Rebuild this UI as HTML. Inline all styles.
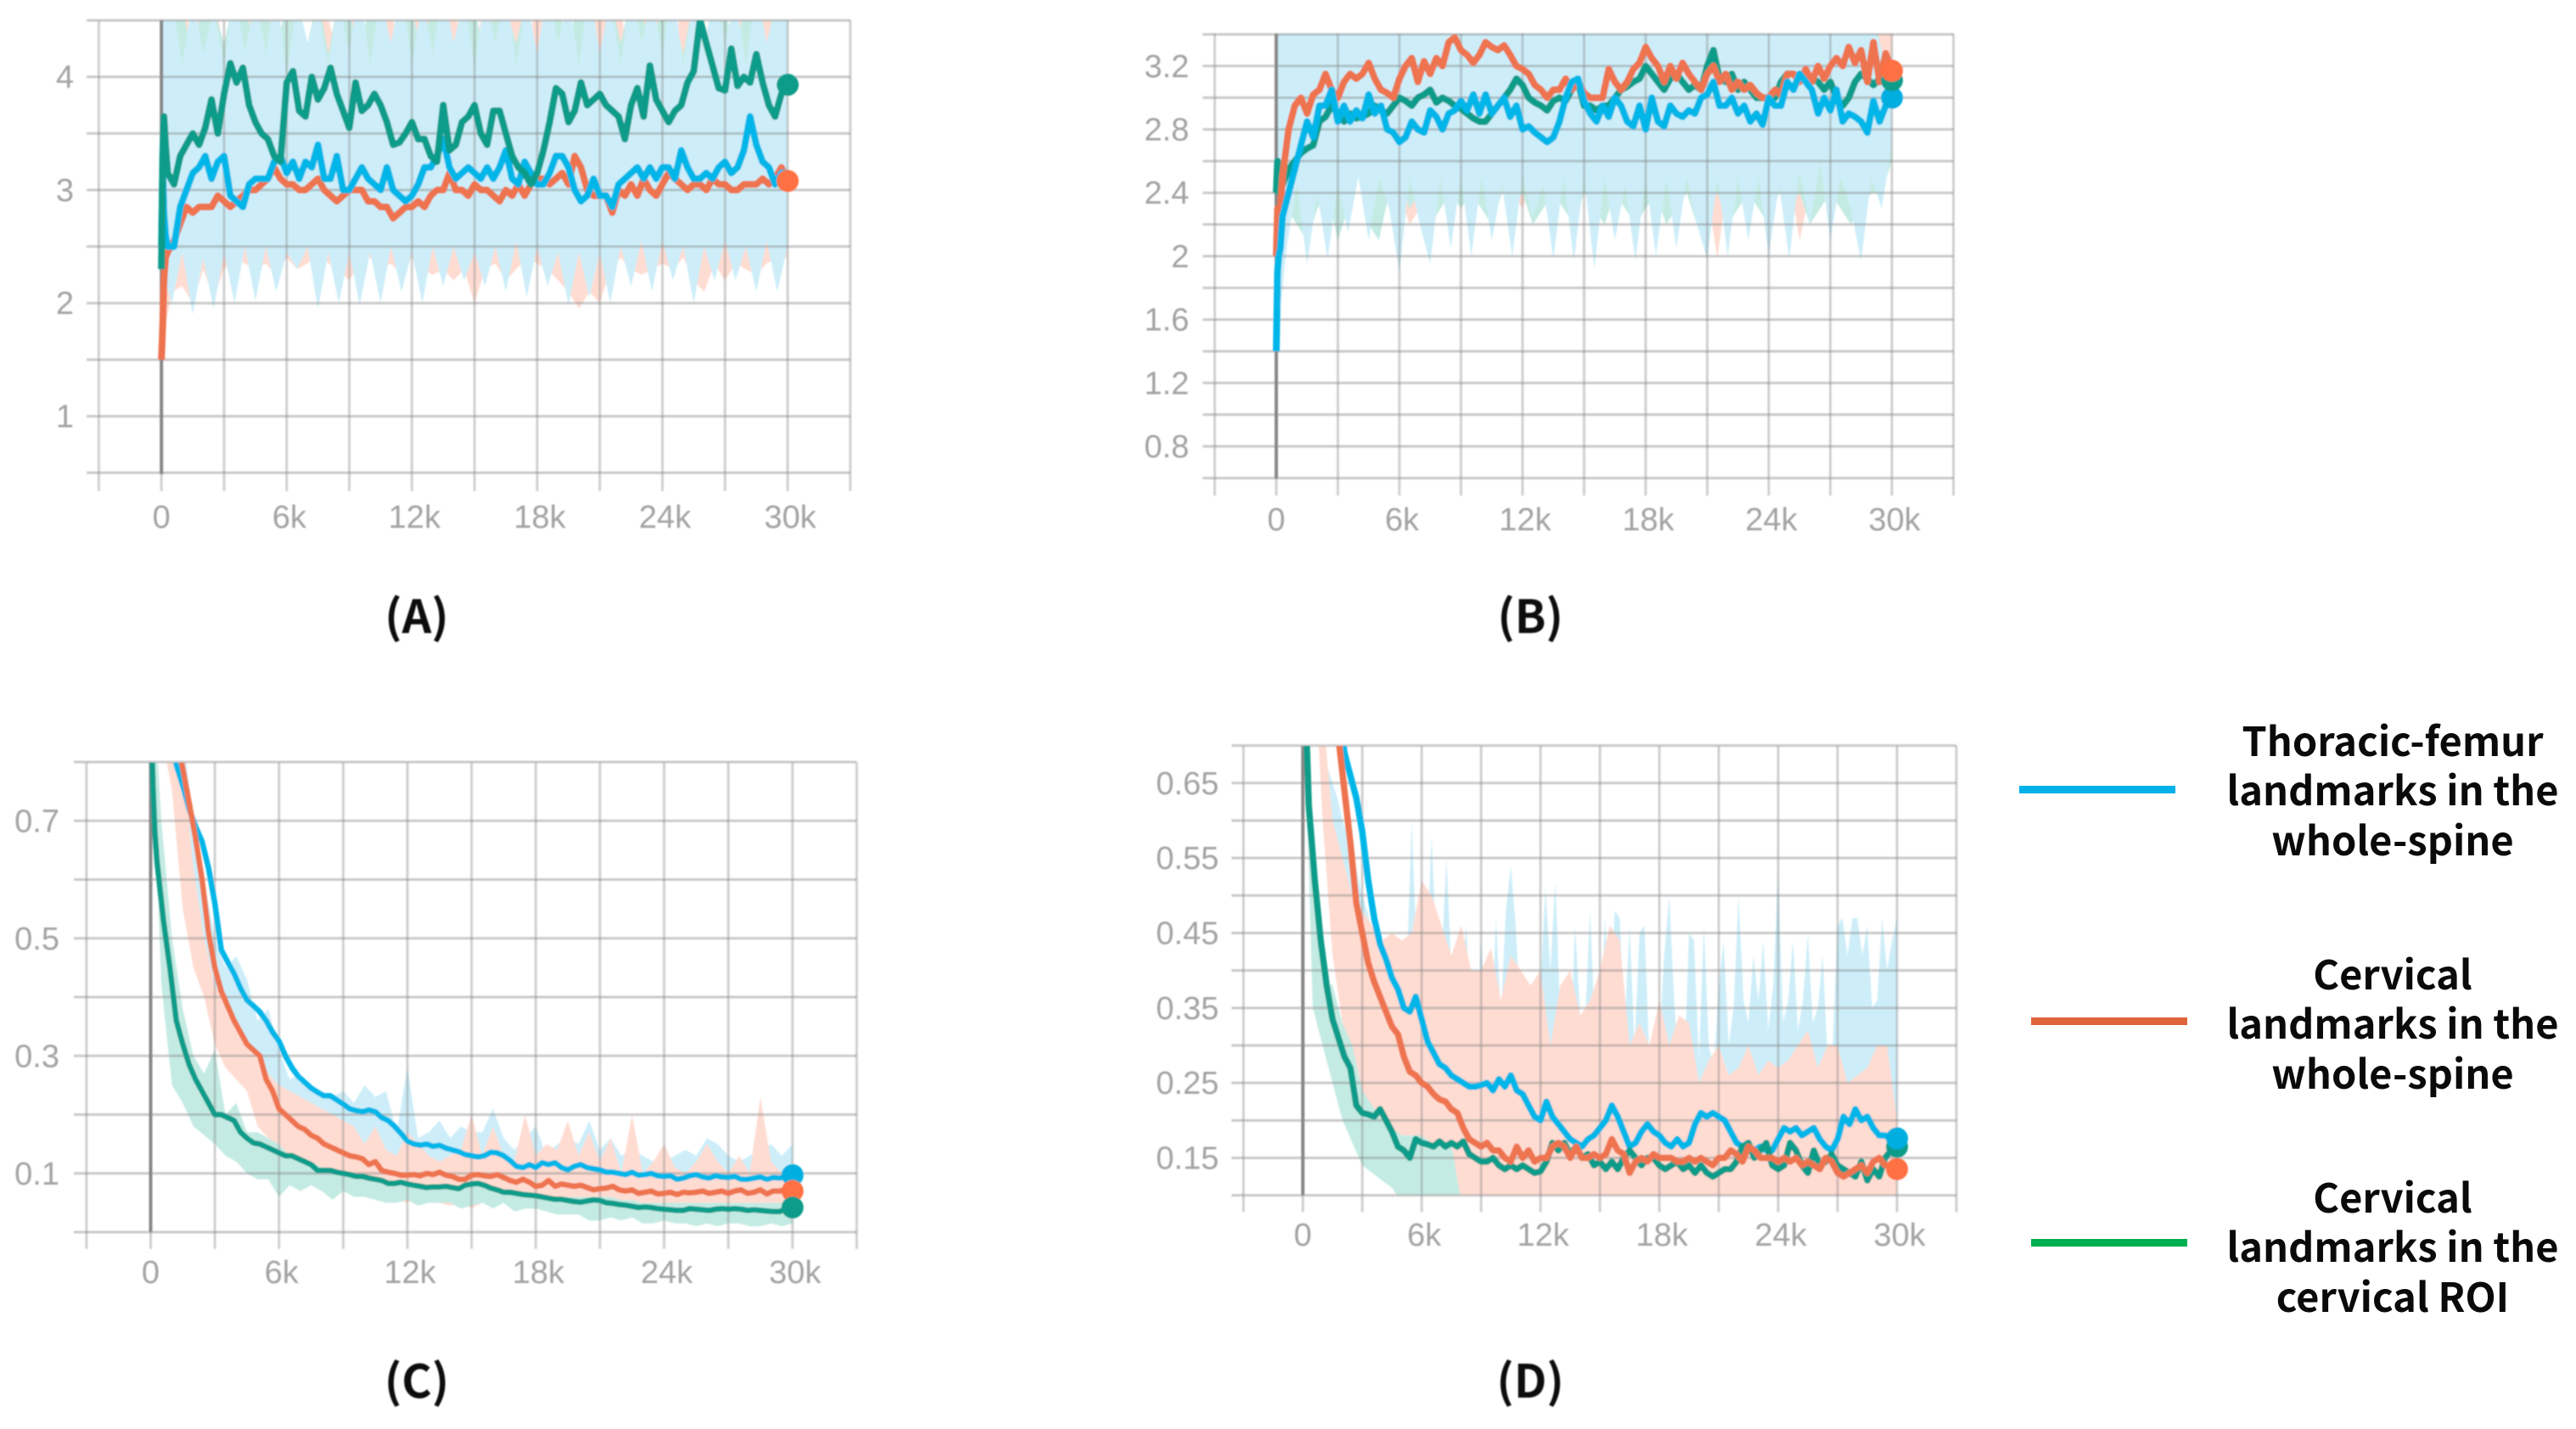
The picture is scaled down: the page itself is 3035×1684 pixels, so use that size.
<!DOCTYPE html>
<html lang="en">
<head>
<meta charset="utf-8">
<title>Training curves for landmark detection models</title>
<style>
html,body{margin:0;padding:0;background:#fff;}
svg{display:block;}
.tick{font-family:"Liberation Sans",sans-serif;font-size:38px;fill:#a3a3a3;}
.panel-title{font-family:"Noto Sans CJK KR","Liberation Sans",sans-serif;font-weight:700;font-size:54px;fill:#111;text-anchor:middle;}
.legend-text{font-family:"Noto Sans CJK KR","Liberation Sans",sans-serif;font-weight:700;font-size:47px;fill:#0a0a0a;text-anchor:middle;}
</style>
</head>
<body>
<svg id="figure" xmlns="http://www.w3.org/2000/svg" width="3035" height="1684" viewBox="0 0 3035 1684">
<defs>
<filter id="soft" x="-2%" y="-2%" width="104%" height="104%"><feGaussianBlur stdDeviation="0.8"/></filter>
</defs>
<rect width="3035" height="1684" fill="#ffffff"/>
<g id="charts" filter="url(#soft)"></g>
<g filter="url(#soft)">
<text class="panel-title" x="491" y="746">(A)</text>
<text class="panel-title" x="1803" y="746">(B)</text>
<text class="panel-title" x="491" y="1647">(C)</text>
<text class="panel-title" x="1803" y="1647">(D)</text>
</g>
<g>
<g>
<rect x="2379" y="926" width="184" height="9" fill="#00b0e8"/>
<text class="legend-text" x="2819" y="891">Thoracic-femur</text>
<text class="legend-text" x="2819" y="949">landmarks in the</text>
<text class="legend-text" x="2819" y="1008">whole-spine</text>
</g>
<g>
<rect x="2393" y="1199" width="184" height="9" fill="#e0653a"/>
<text class="legend-text" x="2819" y="1166">Cervical</text>
<text class="legend-text" x="2819" y="1224">landmarks in the</text>
<text class="legend-text" x="2819" y="1283">whole-spine</text>
</g>
<g>
<rect x="2393" y="1460" width="184" height="9" fill="#00b050"/>
<text class="legend-text" x="2819" y="1429">Cervical</text>
<text class="legend-text" x="2819" y="1487">landmarks in the</text>
<text class="legend-text" x="2819" y="1546">cervical ROI</text>
</g>
</g>
</svg>
<script>
/* Shared step axes */
const steps = [0,60,120,200,
300,600,900,1200,1500,1800,2100,2400,2700,3000,
3300,3600,3900,4200,4500,4800,5100,5400,5700,6000,
6300,6600,6900,7200,7500,7800,8100,8400,8700,9000,
9300,9600,9900,10200,10500,10800,11100,11400,11700,12000,
12300,12600,12900,13200,13500,13800,14100,14400,14700,15000,
15300,15600,15900,16200,16500,16800,17100,17400,17700,18000,
18300,18600,18900,19200,19500,19800,20100,20400,20700,21000,
21300,21600,21900,22200,22500,22800,23100,23400,23700,24000,
24300,24600,24900,25200,25500,25800,26100,26400,26700,27000,
27300,27600,27900,28200,28500,28800,29100,29400,29700,30000];
const rawSteps = [0,500,1000,1500,2000,2500,3000,3500,4000,4500,
5000,5500,6000,6500,7000,7500,8000,8500,9000,9500,
10000,10500,11000,11500,12000,12500,13000,13500,14000,14500,
15000,15500,16000,16500,17000,17500,18000,18500,19000,19500,
20000,20500,21000,21500,22000,22500,23000,23500,24000,24500,
25000,25500,26000,26500,27000,27500,28000,28500,29000,29500,30000];
const fineSteps = [0,250,500,750,1000,1250,1500,1750,2000,2250,2500,2750,3000,3250,3500,3750,4000,4250,4500,4750,
5000,5250,5500,5750,6000,6250,6500,6750,7000,7250,7500,7750,8000,8250,8500,8750,9000,9250,9500,9750,
10000,10250,10500,10750,11000,11250,11500,11750,12000,12250,12500,12750,13000,13250,13500,13750,14000,14250,14500,14750,
15000,15250,15500,15750,16000,16250,16500,16750,17000,17250,17500,17750,18000,18250,18500,18750,19000,19250,19500,19750,
20000,20250,20500,20750,21000,21250,21500,21750,22000,22250,22500,22750,23000,23250,23500,23750,24000,24250,24500,24750,
25000,25250,25500,25750,26000,26250,26500,26750,27000,27250,27500,27750,28000,28250,28500,28750,29000,29250,29500,29750,30000];
const xGridSteps = [-3000,0,3000,6000,9000,12000,15000,18000,21000,24000,27000,30000,33000];
const xTickSteps = [0,6000,12000,18000,24000,30000];
const xTickLabels = ['0','6k','12k','18k','24k','30k'];

/* Panel A */
const aGridValues = [0.5,1,1.5,2,2.5,3,3.5,4,4.5];
const aTickValues = [1,2,3,4];
const aTickLabels = ['1','2','3','4'];
const aTeal = [2.3,3.3,3.65,3.4,
3.15,3.05,3.3,3.4,3.5,3.4,3.55,3.8,3.5,3.85,
4.12,3.95,4.08,3.75,3.6,3.5,3.45,3.3,3.25,3.95,
4.05,3.7,3.65,4.0,3.8,3.9,4.08,3.85,3.7,3.55,
3.95,3.7,3.75,3.85,3.75,3.6,3.4,3.42,3.5,3.6,
3.45,3.45,3.3,3.25,3.75,3.35,3.4,3.6,3.65,3.75,
3.5,3.4,3.7,3.7,3.5,3.3,3.2,3.15,3.05,3.15,
3.35,3.6,3.9,3.85,3.6,3.7,3.95,3.75,3.8,3.85,
3.75,3.7,3.65,3.45,3.75,3.9,3.65,4.1,3.8,3.7,
3.6,3.7,3.75,3.95,4.05,4.5,4.3,4.1,3.9,3.88,
4.25,3.92,4.0,3.95,4.2,3.95,3.75,3.65,3.85,3.93];
const aCyan = [2.5,3.2,2.8,2.6,
2.5,2.5,2.85,3.0,3.15,3.2,3.3,3.1,3.25,3.3,
2.95,2.9,2.85,3.05,3.1,3.1,3.1,3.25,3.3,3.15,
3.25,3.1,3.25,3.2,3.4,3.1,3.1,3.3,3.0,3.0,
3.1,3.2,3.1,3.05,3.0,3.2,3.0,2.95,2.9,2.95,
3.05,3.2,3.2,3.3,3.45,3.2,3.1,3.15,3.2,3.15,
3.1,3.2,3.1,3.2,3.35,3.1,3.05,3.25,3.15,3.05,
3.05,3.15,3.3,3.3,3.2,3.0,2.9,2.95,3.1,2.95,
2.95,2.85,3.05,3.1,3.15,3.2,3.1,3.2,3.1,3.2,
3.2,3.1,3.35,3.2,3.1,3.1,3.15,3.1,3.2,3.25,
3.15,3.2,3.35,3.65,3.4,3.25,3.2,3.05,3.15,3.15];
const aOrange = [1.5,1.8,2.2,2.4,
2.45,2.55,2.7,2.85,2.8,2.85,2.85,2.85,2.95,2.9,
2.85,2.9,2.95,3.0,3.0,3.05,3.1,3.2,3.1,3.05,
3.05,3.0,3.0,3.05,3.1,3.0,2.95,2.9,2.95,3.0,
3.0,3.0,2.9,2.9,2.85,2.85,2.75,2.8,2.85,2.85,
2.9,2.85,2.95,3.0,3.0,3.15,3.0,3.0,2.95,3.05,
3.0,3.0,2.95,2.9,3.0,2.95,3.05,2.95,3.05,3.1,
3.1,3.05,3.1,3.15,3.05,3.3,3.2,3.0,2.95,2.95,
2.95,2.8,3.0,2.95,3.05,2.95,3.1,3.0,2.95,3.05,
3.15,3.1,3.05,3.0,3.05,3.05,3.0,3.1,3.05,3.05,
3.0,3.0,3.05,3.05,3.05,3.1,3.05,3.1,3.2,3.08];
const aCyanLow = [2.3,2.0,2.45,1.9,2.4,1.95,2.45,2.0,2.5,2.02,
2.5,2.1,2.45,2.3,2.5,1.95,2.45,2.0,2.45,1.98,
2.45,2.0,2.5,2.1,2.45,2.0,2.5,2.15,2.5,2.2,
2.45,2.15,2.5,2.1,2.55,2.05,2.5,2.15,2.45,1.98,
2.45,2.05,2.45,2.0,2.5,2.15,2.55,2.1,2.55,2.2,
2.5,2.0,2.5,2.2,2.55,2.2,2.5,2.1,2.55,2.1,2.5];
const aCyanHigh = [5,4.7,4.1,4.7,4.2,4.6,4.1,4.8,4.2,4.7,
4.2,4.8,4.0,4.7,4.3,4.6,4.1,4.7,4.2,4.8,
4.1,4.7,4.3,4.8,4.1,4.7,4.2,4.8,4.3,4.7,
4.1,4.7,4.3,4.8,4.1,4.7,4.2,4.8,4.3,4.7,
4.1,4.8,4.2,4.7,4.1,4.8,4.3,4.7,4.2,4.8,
4.1,4.7,4.2,4.8,4.3,4.7,4.1,4.8,4.3,4.7,4.6];
const aOrangeLow = [1.6,2.1,2.15,2.0,2.3,2.05,2.3,2.4,2.35,2.3,
2.35,2.25,2.4,2.3,2.35,2.45,2.35,2.3,2.2,2.35,
2.4,2.3,2.35,2.25,2.4,2.3,2.25,2.3,2.2,2.3,
2.0,2.3,2.35,2.2,2.3,2.4,2.35,2.3,2.2,2.1,
1.95,2.1,2.0,2.3,2.4,2.3,2.25,2.3,2.35,2.3,
2.4,2.2,2.1,2.35,2.2,2.35,2.3,2.25,2.35,2.4,2.4];
const aOrangeHigh = [1.8,4.5,4.7,4.3,4.7,4.8,4.2,4.7,4.4,4.7,
4.8,4.2,4.7,4.6,4.0,4.7,4.5,4.2,4.8,4.5,
4.2,4.7,4.6,4.1,4.7,4.7,4.4,4.7,4.6,4.3,
4.2,4.7,4.5,4.3,4.7,4.2,4.7,4.6,4.4,4.1,
4.7,4.3,4.7,4.5,4.6,4.0,4.7,4.6,4.4,4.2,
4.7,4.5,4.0,4.7,4.3,4.7,4.6,4.2,4.7,4.5,4.6];
const aTealLow = [2.4,3.0,3.0,3.1,3.0,3.1,3.0,3.1,3.0,3.1,
3.0,3.1,3.0,3.1,3.0,3.1,3.0,3.1,3.0,3.1,
3.0,3.1,3.0,3.1,3.0,3.1,3.0,3.1,3.0,3.1,
3.0,3.1,3.0,3.1,3.0,3.1,3.0,3.1,3.0,3.1,
3.0,3.1,3.0,3.1,3.0,3.1,3.0,3.1,3.0,3.1,
3.0,3.1,3.0,3.1,3.0,3.1,3.0,3.1,3.0,3.1,3.1];
const aTealHigh = [5,4.7,4.6,4.2,4.7,4.6,4.3,4.7,4.6,4.3,
4.7,4.2,4.7,4.6,4.3,4.7,4.2,4.7,4.6,4.2,
4.7,4.6,4.3,4.7,4.6,4.2,4.7,4.6,4.3,4.7,
4.6,4.2,4.7,4.6,4.3,4.7,4.2,4.7,4.6,4.3,
4.7,4.6,4.2,4.7,4.3,4.7,4.6,4.2,4.7,4.6,
4.2,4.7,4.3,4.7,4.6,4.2,4.7,4.6,4.3,4.7,4.6];

/* Panel B */
const bGridValues = [0.6,0.8,1,1.2,1.4,1.6,1.8,2,2.2,2.4,2.6,2.8,3,3.2,3.4];
const bTickValues = [0.8,1.2,1.6,2,2.4,2.8,3.2];
const bTickLabels = ['0.8','1.2','1.6','2','2.4','2.8','3.2'];
const bOrange = [2.0,2.3,2.0,2.3,
2.5,2.8,2.95,3.0,2.9,3.02,3.05,3.15,3.05,3.0,
3.1,3.15,3.12,3.15,3.22,3.12,3.05,3.03,3.0,3.12,
3.2,3.25,3.1,3.23,3.15,3.25,3.2,3.35,3.38,3.3,
3.27,3.22,3.27,3.35,3.32,3.3,3.33,3.27,3.2,3.18,
3.15,3.08,3.05,3.0,3.05,3.05,3.12,3.05,3.1,3.03,
3.0,3.0,3.0,3.18,3.1,3.05,3.1,3.18,3.22,3.32,
3.25,3.2,3.1,3.2,3.12,3.22,3.15,3.1,3.05,3.15,
3.2,3.1,3.15,3.05,3.1,3.05,3.08,3.03,3.0,3.0,
3.05,3.02,3.15,3.15,3.1,3.18,3.1,3.2,3.12,3.2,
3.25,3.2,3.32,3.22,3.3,3.1,3.35,3.1,3.28,3.17];
const bTeal = [2.4,2.6,2.4,2.45,
2.45,2.55,2.6,2.65,2.68,2.7,2.85,2.88,2.95,2.9,
2.85,2.9,2.87,2.88,2.9,2.95,2.92,2.9,2.95,3.0,
2.98,2.95,3.0,3.02,3.05,2.97,3.0,2.98,2.95,2.93,
2.9,2.87,2.85,2.85,2.9,2.95,3.0,3.05,3.12,3.08,
3.0,2.97,2.95,2.92,2.98,3.0,2.98,3.05,3.1,2.95,
2.95,2.92,2.95,2.95,3.0,3.05,3.07,3.1,3.12,3.2,
3.15,3.1,3.05,3.12,3.15,3.1,3.05,3.08,3.05,3.2,
3.3,3.12,3.1,3.15,3.05,3.1,3.05,3.0,3.0,3.0,
3.0,3.1,3.15,3.15,3.12,3.15,3.12,3.1,3.05,3.1,
3.0,2.95,3.0,3.1,3.15,3.12,3.08,3.12,3.1,3.11];
const bCyan = [1.4,1.9,2.0,2.05,
2.25,2.4,2.55,2.7,2.85,2.75,2.95,2.95,3.05,2.85,
2.95,2.85,2.92,2.87,3.02,2.9,2.95,2.8,2.78,2.72,
2.75,2.85,2.8,2.78,2.92,2.88,2.8,2.9,2.92,2.98,
2.92,3.02,2.9,3.02,2.9,2.95,3.0,2.88,2.95,2.8,
2.82,2.78,2.75,2.72,2.75,2.85,3.0,3.1,3.12,2.98,
2.9,2.85,2.95,2.88,3.0,2.95,2.85,2.82,2.95,2.8,
3.0,2.85,2.82,2.95,2.9,2.88,2.92,2.9,3.0,3.02,
3.1,2.95,2.95,3.0,2.9,2.95,2.85,2.9,2.83,3.0,
2.95,2.95,3.1,3.05,3.15,3.1,3.05,2.9,3.0,2.92,
3.05,2.85,2.9,2.88,2.85,2.78,2.98,2.85,2.95,3.0];
const bCyanLow = [1.4,2.05,2.45,1.95,2.4,1.98,2.45,2.15,2.5,2.1,
2.5,2.3,1.9,2.5,2.2,1.95,2.5,2.05,2.5,2.0,
2.5,2.1,2.45,2.0,2.5,2.25,2.45,1.98,2.5,1.97,
2.5,1.92,2.5,2.1,2.45,1.97,2.5,2.0,2.5,2.05,
2.5,2.2,1.98,2.5,2.0,2.5,2.1,2.5,2.0,2.45,
1.98,2.55,2.2,2.6,2.1,2.5,2.3,1.97,2.5,2.3,2.7];
const bCyanHigh = [3.6,3.6,3.6,3.6,3.5,3.6,3.45,3.6,3.6,3.5,
3.6,3.55,3.6,3.45,3.6,3.6,3.5,3.6,3.45,3.6,
3.6,3.5,3.6,3.6,3.45,3.6,3.5,3.6,3.6,3.45,
3.6,3.6,3.5,3.6,3.45,3.6,3.6,3.5,3.6,3.6,
3.45,3.6,3.6,3.5,3.6,3.6,3.45,3.6,3.5,3.6,
3.6,3.5,3.45,3.6,3.6,3.5,3.4,3.6,3.5,3.3,3.2];
const bOrangeLow = [2.0,2.6,2.4,2.3,2.4,2.2,2.5,2.3,2.6,2.5,
2.4,2.5,2.4,2.2,2.3,2.05,2.4,2.5,2.5,2.4,
2.5,2.4,2.5,2.4,2.3,2.5,2.4,2.5,2.4,2.5,
2.4,2.5,2.4,2.5,2.5,2.4,2.3,2.5,2.4,2.5,
2.4,2.5,2.4,1.98,2.5,2.4,2.5,2.4,2.5,2.4,
2.5,2.1,2.4,2.5,2.4,2.5,2.4,2.5,2.5,2.6,2.8];
const bOrangeHigh = [2.3,3.6,3.5,3.6,3.6,3.5,3.6,3.6,3.5,3.6,
3.6,3.6,3.5,3.6,3.6,3.5,3.6,3.6,3.6,3.5,
3.6,3.6,3.5,3.6,3.6,3.6,3.5,3.6,3.6,3.5,
3.6,3.6,3.6,3.5,3.6,3.6,3.5,3.6,3.6,3.6,
3.5,3.6,3.6,3.5,3.6,3.6,3.6,3.5,3.6,3.6,
3.5,3.6,3.6,3.6,3.5,3.6,3.6,3.6,3.5,3.6,3.4];
const bTealLow = [2.4,2.3,2.2,2.1,2.3,2.4,2.1,2.3,2.5,2.2,
2.1,2.4,2.5,2.3,2.4,2.2,2.3,2.4,2.3,2.4,
2.3,2.2,2.4,2.3,2.4,2.2,2.3,2.4,2.3,2.2,
2.4,2.3,2.2,2.4,2.3,2.2,2.3,2.4,2.2,2.3,
2.4,2.2,2.3,2.4,2.2,2.3,2.4,2.3,2.2,2.4,
2.3,2.4,2.2,2.3,2.4,2.3,2.2,2.3,2.4,2.4,2.6];
const bTealHigh = [2.6,3.6,3.6,3.5,3.6,3.6,3.6,3.5,3.6,3.6,
3.6,3.5,3.6,3.6,3.6,3.6,3.5,3.6,3.6,3.6,
3.5,3.6,3.6,3.6,3.5,3.6,3.6,3.6,3.5,3.6,
3.6,3.5,3.6,3.6,3.6,3.5,3.6,3.6,3.6,3.5,
3.6,3.6,3.5,3.6,3.6,3.5,3.6,3.6,3.6,3.5,
3.6,3.6,3.5,3.6,3.6,3.6,3.5,3.6,3.6,3.3,3.2];

/* Panel C */
const cGridValues = [0,0.1,0.2,0.3,0.4,0.5,0.6,0.7,0.8];
const cTickValues = [0.1,0.3,0.5,0.7];
const cTickLabels = ['0.1','0.3','0.5','0.7'];
const cTeal = [1.0,0.82,0.75,0.68,
0.63,0.53,0.45,0.36,0.32,0.285,0.26,0.24,0.22,0.2,
0.2,0.195,0.19,0.17,0.16,0.152,0.15,0.145,0.14,0.135,
0.13,0.13,0.125,0.12,0.115,0.105,0.105,0.105,0.102,0.1,
0.098,0.095,0.095,0.092,0.09,0.088,0.083,0.083,0.085,0.082,
0.08,0.078,0.076,0.077,0.077,0.078,0.076,0.074,0.08,0.082,
0.083,0.08,0.075,0.072,0.068,0.068,0.066,0.064,0.063,0.062,
0.06,0.058,0.056,0.056,0.054,0.052,0.051,0.053,0.055,0.054,
0.05,0.049,0.047,0.046,0.044,0.042,0.043,0.042,0.04,0.039,
0.038,0.037,0.037,0.04,0.039,0.038,0.037,0.039,0.04,0.039,
0.04,0.039,0.037,0.038,0.037,0.036,0.035,0.035,0.04,0.042];
const cOrange = [1.3,1.2,1.1,1.05,
1.02,0.97,0.9,0.84,0.79,0.73,0.67,0.6,0.51,0.45,
0.41,0.385,0.36,0.34,0.32,0.31,0.3,0.26,0.24,0.21,
0.2,0.19,0.18,0.175,0.165,0.16,0.15,0.145,0.14,0.135,
0.13,0.128,0.125,0.115,0.12,0.105,0.102,0.1,0.097,0.097,
0.098,0.096,0.1,0.098,0.102,0.097,0.095,0.09,0.09,0.097,
0.098,0.096,0.095,0.098,0.093,0.088,0.085,0.09,0.085,0.078,
0.08,0.088,0.078,0.082,0.08,0.078,0.08,0.076,0.072,0.074,
0.075,0.078,0.072,0.07,0.072,0.066,0.068,0.07,0.065,0.066,
0.068,0.064,0.068,0.067,0.068,0.07,0.066,0.068,0.07,0.066,
0.07,0.072,0.066,0.068,0.072,0.065,0.07,0.07,0.072,0.07];
const cCyan = [1.4,1.3,1.2,1.1,
1.05,0.95,0.87,0.795,0.76,0.72,0.69,0.665,0.62,0.56,
0.48,0.46,0.44,0.415,0.395,0.385,0.375,0.36,0.34,0.325,
0.3,0.28,0.265,0.255,0.245,0.238,0.232,0.232,0.225,0.218,
0.21,0.207,0.205,0.208,0.205,0.195,0.19,0.18,0.168,0.155,
0.15,0.148,0.15,0.146,0.148,0.143,0.14,0.137,0.132,0.13,
0.128,0.13,0.136,0.135,0.13,0.122,0.112,0.11,0.115,0.11,
0.118,0.115,0.118,0.11,0.106,0.112,0.115,0.11,0.108,0.106,
0.102,0.102,0.1,0.098,0.102,0.097,0.098,0.1,0.096,0.095,
0.096,0.09,0.092,0.096,0.098,0.094,0.092,0.096,0.094,0.093,
0.095,0.09,0.09,0.092,0.094,0.09,0.093,0.092,0.095,0.097];
const cTealLow = [0.9,0.42,0.25,0.22,0.18,0.165,0.15,0.13,0.12,0.1,
0.09,0.09,0.06,0.08,0.07,0.08,0.07,0.055,0.07,0.06,
0.06,0.055,0.05,0.05,0.055,0.045,0.05,0.05,0.05,0.04,
0.045,0.05,0.04,0.05,0.035,0.04,0.04,0.035,0.03,0.03,
0.03,0.02,0.02,0.025,0.02,0.025,0.015,0.015,0.02,0.015,
0.015,0.01,0.015,0.01,0.015,0.015,0.01,0.01,0.015,0.01,0.015];
const cTealHigh = [1.0,0.7,0.5,0.38,0.3,0.27,0.31,0.2,0.22,0.17,
0.17,0.16,0.15,0.13,0.12,0.12,0.11,0.11,0.1,0.1,
0.095,0.09,0.085,0.08,0.08,0.08,0.08,0.08,0.08,0.08,
0.08,0.08,0.075,0.07,0.07,0.065,0.065,0.06,0.06,0.06,
0.06,0.06,0.06,0.06,0.055,0.055,0.05,0.05,0.05,0.05,
0.05,0.05,0.05,0.05,0.05,0.05,0.05,0.05,0.05,0.05,0.05];
const cOrangeLow = [0.9,0.85,0.75,0.55,0.45,0.4,0.32,0.28,0.26,0.24,
0.18,0.16,0.14,0.12,0.1,0.09,0.08,0.075,0.07,0.065,
0.07,0.06,0.06,0.055,0.05,0.06,0.05,0.05,0.045,0.05,
0.04,0.05,0.045,0.05,0.04,0.04,0.045,0.035,0.04,0.035,
0.04,0.03,0.035,0.03,0.035,0.03,0.03,0.025,0.03,0.025,
0.03,0.025,0.03,0.02,0.025,0.025,0.02,0.025,0.02,0.025,0.02];
const cOrangeHigh = [1.3,1.2,1,0.8,0.62,0.5,0.42,0.39,0.36,0.33,
0.3,0.27,0.25,0.24,0.23,0.22,0.21,0.2,0.19,0.18,
0.15,0.18,0.14,0.13,0.17,0.15,0.13,0.12,0.13,0.14,
0.2,0.13,0.18,0.13,0.12,0.2,0.13,0.15,0.14,0.19,
0.13,0.17,0.12,0.16,0.1,0.2,0.1,0.12,0.15,0.11,
0.1,0.12,0.15,0.12,0.1,0.13,0.1,0.23,0.12,0.1,0.1];
const cCyanLow = [1.4,1.2,0.9,0.7,0.55,0.44,0.36,0.32,0.28,0.26,
0.22,0.2,0.18,0.17,0.16,0.16,0.15,0.14,0.13,0.12,
0.12,0.11,0.11,0.11,0.105,0.11,0.1,0.1,0.1,0.095,
0.09,0.09,0.09,0.085,0.085,0.085,0.085,0.08,0.08,0.08,
0.08,0.075,0.075,0.08,0.075,0.07,0.07,0.07,0.07,0.07,
0.07,0.07,0.07,0.07,0.065,0.07,0.07,0.065,0.07,0.07,0.07];
const cCyanHigh = [1.4,1.3,1.1,0.85,0.7,0.6,0.5,0.45,0.47,0.43,
0.36,0.38,0.31,0.26,0.27,0.24,0.24,0.23,0.24,0.22,
0.25,0.23,0.24,0.17,0.28,0.16,0.17,0.19,0.16,0.18,
0.17,0.17,0.21,0.16,0.14,0.16,0.18,0.13,0.15,0.16,
0.15,0.19,0.14,0.16,0.13,0.14,0.13,0.12,0.12,0.13,
0.14,0.13,0.16,0.15,0.13,0.12,0.13,0.14,0.15,0.13,0.15];

/* Panel D */
const dGridValues = [0.1,0.15,0.2,0.25,0.3,0.35,0.4,0.45,0.5,0.55,0.6,0.65,0.7];
const dTickValues = [0.15,0.25,0.35,0.45,0.55,0.65];
const dTickLabels = ['0.15','0.25','0.35','0.45','0.55','0.65'];
const dTeal = [0.95,0.85,0.75,0.7,
0.62,0.52,0.44,0.38,0.335,0.31,0.285,0.27,0.22,0.21,
0.208,0.205,0.215,0.2,0.185,0.165,0.16,0.15,0.175,0.17,
0.168,0.165,0.172,0.165,0.17,0.165,0.172,0.155,0.15,0.145,
0.145,0.15,0.14,0.135,0.14,0.135,0.14,0.135,0.13,0.132,
0.145,0.17,0.16,0.17,0.155,0.165,0.15,0.155,0.14,0.145,
0.135,0.145,0.135,0.15,0.16,0.15,0.14,0.15,0.15,0.14,
0.135,0.14,0.145,0.135,0.14,0.13,0.14,0.13,0.125,0.13,
0.135,0.135,0.145,0.165,0.17,0.15,0.16,0.17,0.14,0.135,
0.14,0.17,0.16,0.14,0.13,0.16,0.14,0.145,0.155,0.14,
0.135,0.13,0.125,0.145,0.12,0.135,0.125,0.15,0.16,0.165];
const dOrange = [1.4,1.3,1.25,1.2,
1.15,1.05,0.95,0.85,0.77,0.71,0.64,0.57,0.49,0.45,
0.41,0.385,0.365,0.345,0.325,0.315,0.285,0.265,0.26,0.25,
0.245,0.235,0.228,0.225,0.215,0.21,0.19,0.175,0.17,0.165,
0.17,0.16,0.16,0.15,0.145,0.165,0.15,0.16,0.145,0.15,
0.15,0.165,0.17,0.165,0.15,0.165,0.15,0.15,0.155,0.15,
0.155,0.175,0.16,0.155,0.13,0.145,0.15,0.145,0.155,0.15,
0.15,0.15,0.145,0.145,0.15,0.145,0.15,0.145,0.14,0.15,
0.15,0.16,0.155,0.145,0.165,0.16,0.15,0.15,0.15,0.145,
0.15,0.145,0.15,0.14,0.145,0.14,0.135,0.15,0.145,0.13,
0.125,0.13,0.135,0.14,0.13,0.145,0.15,0.14,0.14,0.135];
const dCyan = [1.5,1.4,1.35,1.3,
1.25,1.15,1.05,0.95,0.85,0.75,0.69,0.66,0.63,0.585,
0.52,0.47,0.435,0.415,0.39,0.375,0.35,0.345,0.365,0.335,
0.305,0.29,0.275,0.27,0.26,0.255,0.25,0.245,0.245,0.247,
0.25,0.24,0.255,0.245,0.26,0.24,0.235,0.22,0.205,0.2,
0.225,0.205,0.195,0.185,0.175,0.17,0.165,0.175,0.18,0.19,
0.2,0.22,0.205,0.185,0.165,0.17,0.185,0.195,0.185,0.18,
0.17,0.165,0.175,0.165,0.17,0.195,0.21,0.205,0.21,0.205,
0.2,0.185,0.17,0.165,0.165,0.16,0.165,0.16,0.16,0.175,
0.19,0.185,0.19,0.18,0.185,0.19,0.175,0.165,0.16,0.175,
0.205,0.195,0.215,0.2,0.205,0.19,0.18,0.18,0.175,0.176];
const dCyanLow = [1.2,0.85,0.66,0.5,0.43,0.36,0.32,0.27,0.26,0.25,
0.24,0.24,0.23,0.24,0.22,0.23,0.22,0.23,0.22,0.22,
0.21,0.22,0.21,0.2,0.19,0.2,0.19,0.18,0.19,0.18,
0.19,0.18,0.18,0.19,0.18,0.18,0.19,0.18,0.18,0.19,
0.18,0.18,0.19,0.18,0.18,0.18,0.19,0.18,0.18,0.19,
0.18,0.18,0.19,0.18,0.18,0.19,0.18,0.18,0.19,0.18,0.18];
const dCyanHigh = [1.5,1.2,1.1,0.95,0.7,0.67,0.65,0.63,0.6,0.58,0.55,0.53,0.5,0.48,0.45,0.44,0.44,0.42,0.45,0.41,
0.42,0.4,0.6,0.42,0.4,0.42,0.58,0.42,0.41,0.55,0.4,0.38,0.38,0.46,0.34,0.33,0.44,0.32,0.3,0.47,
0.34,0.48,0.54,0.46,0.33,0.3,0.28,0.3,0.38,0.51,0.4,0.52,0.34,0.3,0.3,0.46,0.34,0.33,0.48,0.32,
0.3,0.47,0.36,0.48,0.47,0.33,0.46,0.3,0.45,0.46,0.28,0.27,0.3,0.42,0.5,0.36,0.26,0.26,0.45,0.44,
0.28,0.46,0.3,0.27,0.38,0.44,0.3,0.35,0.5,0.36,0.33,0.42,0.36,0.44,0.32,0.38,0.53,0.33,0.36,0.44,
0.32,0.36,0.45,0.33,0.35,0.42,0.28,0.3,0.46,0.47,0.42,0.47,0.47,0.42,0.46,0.35,0.36,0.47,0.4,0.44,0.47];
const dOrangeLow = [1.2,0.85,0.6,0.42,0.33,0.26,0.2,0.16,0.15,0.14,
0.14,0.13,0.12,0.12,0.11,0.1,0.09,0.09,0.09,0.09,
0.09,0.09,0.09,0.09,0.09,0.09,0.09,0.09,0.09,0.09,
0.09,0.09,0.09,0.09,0.09,0.09,0.09,0.09,0.09,0.09,
0.09,0.09,0.09,0.09,0.09,0.09,0.09,0.09,0.09,0.09,
0.09,0.09,0.09,0.09,0.09,0.09,0.09,0.09,0.09,0.09,0.09];
const dOrangeHigh = [1.3,1.0,0.75,0.6,0.55,0.5,0.48,0.46,0.44,0.45,
0.44,0.45,0.52,0.5,0.46,0.42,0.46,0.4,0.4,0.43,
0.36,0.42,0.4,0.38,0.4,0.3,0.38,0.4,0.34,0.36,
0.4,0.46,0.44,0.3,0.33,0.3,0.36,0.3,0.34,0.33,
0.25,0.28,0.3,0.26,0.27,0.3,0.26,0.28,0.27,0.28,
0.3,0.32,0.27,0.3,0.3,0.25,0.26,0.27,0.3,0.3,0.2];
const dTealLow = [0.8,0.35,0.3,0.25,0.2,0.17,0.14,0.13,0.12,0.11,
0.09,0.09,0.09,0.09,0.09,0.09,0.09,0.09,0.09,0.09,
0.09,0.09,0.09,0.09,0.09,0.09,0.09,0.09,0.09,0.09,
0.09,0.09,0.09,0.09,0.09,0.09,0.09,0.09,0.09,0.09,
0.09,0.09,0.09,0.09,0.09,0.09,0.09,0.09,0.09,0.09,
0.09,0.09,0.09,0.09,0.09,0.09,0.09,0.09,0.09,0.09,0.09];
const dTealHigh = [0.9,0.5,0.39,0.38,0.33,0.3,0.24,0.22,0.2,0.19,
0.18,0.18,0.18,0.17,0.17,0.17,0.09,0.09,0.09,0.09,
0.09,0.09,0.09,0.09,0.09,0.09,0.09,0.09,0.09,0.09,
0.09,0.09,0.09,0.09,0.09,0.09,0.09,0.09,0.09,0.09,
0.09,0.09,0.09,0.09,0.09,0.09,0.09,0.09,0.09,0.09,
0.09,0.09,0.09,0.09,0.09,0.09,0.09,0.09,0.09,0.09,0.09];

/* Colours */
const lineColors = {teal:'#0d9c8a', cyan:'#00b6e8', orange:'#ee7350'};
const markerColors = {teal:'#0d9c8a', cyan:'#00aee0', orange:'#ff7043'};
const bandColors = {teal:'#c4ebe3', cyan:'#cdeef9', orange:'#ffdcd2'};

/* Layout: pixel geometry of each plot, kept apart from the data */
const panels = [
 {id:'a', x0:190.2, x30:928, v1:4, y1:90.6, v2:3, y2:223.9, top:24, bottom:558.7, hStart:102, labelRight:87, xLabelY:622, lineWidth:8,
  grid:aGridValues, ticks:aTickValues, labels:aTickLabels,
  lines:{orange:aOrange, cyan:aCyan, teal:aTeal}, lineOrder:['orange','cyan','teal'],
  bands:{orange:[aOrangeLow,aOrangeHigh], teal:[aTealLow,aTealHigh], cyan:[aCyanLow,aCyanHigh]}, bandOrder:['orange','teal','cyan'], marker:['teal','orange']},
 {id:'b', x0:1503.7, x30:2229, v1:3.2, y1:77.8, v2:2.8, y2:152.5, top:39.6, bottom:564, hStart:1417, labelRight:1401, xLabelY:625, lineWidth:8,
  grid:bGridValues, ticks:bTickValues, labels:bTickLabels,
  lines:{teal:bTeal, orange:bOrange, cyan:bCyan}, lineOrder:['teal','orange','cyan'],
  bands:{orange:[bOrangeLow,bOrangeHigh], teal:[bTealLow,bTealHigh], cyan:[bCyanLow,bCyanHigh]}, bandOrder:['orange','teal','cyan'], marker:['cyan','teal','orange']},
 {id:'c', x0:177.5, x30:933.7, v1:0.7, y1:967.3, v2:0.1, y2:1382.8, top:898.7, bottom:1451.8, hStart:87, labelRight:70, xLabelY:1512, lineWidth:6.5,
  grid:cGridValues, ticks:cTickValues, labels:cTickLabels,
  lines:{cyan:cCyan, orange:cOrange, teal:cTeal}, lineOrder:['cyan','orange','teal'],
  bands:{cyan:[cCyanLow,cCyanHigh], orange:[cOrangeLow,cOrangeHigh], teal:[cTealLow,cTealHigh]}, bandOrder:['cyan','orange','teal'], marker:['cyan','orange','teal']},
 {id:'d', x0:1535, x30:2235, v1:0.65, y1:922.8, v2:0.15, y2:1364.5, top:879, bottom:1408.4, hStart:1451, labelRight:1436, xLabelY:1468, lineWidth:7.5,
  grid:dGridValues, ticks:dTickValues, labels:dTickLabels,
  lines:{cyan:dCyan, teal:dTeal, orange:dOrange}, lineOrder:['cyan','teal','orange'],
  bands:{cyan:[dCyanLow,dCyanHigh,fineSteps], orange:[dOrangeLow,dOrangeHigh], teal:[dTealLow,dTealHigh]}, bandOrder:['cyan','orange','teal'], marker:['teal','cyan','orange']}
];

const NS = 'http://www.w3.org/2000/svg';
const chartsRoot = document.getElementById('charts');
const defs = document.querySelector('#figure defs');

function make(tag, attrs, parent) {
  const node = document.createElementNS(NS, tag);
  for (const key in attrs) node.setAttribute(key, attrs[key]);
  parent.appendChild(node);
  return node;
}

function xAxisFn(p) {
  const k = (p.x30 - p.x0) / 30000;
  return function (step) { return p.x0 + step * k; };
}
function yAxisFn(p) {
  const k = (p.y2 - p.y1) / (p.v2 - p.v1);
  return function (value) { return p.y1 + (value - p.v1) * k; };
}

function drawPanel(p) {
  const xOf = xAxisFn(p);
  const yOf = yAxisFn(p);
  const left = xOf(xGridSteps[0]);
  const right = xOf(xGridSteps[xGridSteps.length - 1]);

  const g = make('g', {}, chartsRoot);
  
  

  const clip = make('clipPath', {id: 'clip-' + p.id}, defs);
  make('rect', {x: left, y: p.top, width: right - left, height: p.bottom - p.top}, clip);

  const bandLayer = make('g', {'clip-path': 'url(#clip-' + p.id + ')'}, g);
  
  
  p.bandOrder.forEach(function (series) {
    const low = p.bands[series][0];
    const high = p.bands[series][1];
    const highSteps = p.bands[series][2] || rawSteps;
    let d = '';
    highSteps.forEach(function (s, i) {
      d += (i ? 'L' : 'M') + xOf(s).toFixed(1) + ' ' + yOf(high[i]).toFixed(1);
    });
    for (let i = rawSteps.length - 1; i >= 0; i--) {
      d += 'L' + xOf(rawSteps[i]).toFixed(1) + ' ' + yOf(low[i]).toFixed(1);
    }
    const band = make('path', {d: d + 'Z', fill: bandColors[series], stroke: 'none'}, bandLayer);
    
    
  });

  const gridLayer = make('g', {}, g);
  
  
  p.grid.forEach(function (v) {
    const hLine = make('line', {x1: p.hStart, x2: right, y1: yOf(v), y2: yOf(v), stroke: '#8a8a8a', 'stroke-opacity': 0.45, 'stroke-width': 3}, gridLayer);
    
    
  });
  xGridSteps.forEach(function (s) {
    const isZero = s === 0;
    const vLine = make('line', {
      x1: xOf(s), x2: xOf(s), y1: p.top, y2: isZero ? p.bottom : p.bottom + 20,
      stroke: isZero ? '#888888' : '#8a8a8a', 'stroke-opacity': isZero ? 1 : 0.4, 'stroke-width': isZero ? 4 : 3
    }, gridLayer);
    
    
    if (isZero) {
      const tickMark = make('line', {x1: xOf(s), x2: xOf(s), y1: p.bottom, y2: p.bottom + 20, stroke: '#8a8a8a', 'stroke-opacity': 0.4, 'stroke-width': 3}, gridLayer);
      
      
    }
  });

  const lineLayer = make('g', {'clip-path': 'url(#clip-' + p.id + ')'}, g);
  
  
  p.lineOrder.forEach(function (series) {
    const values = p.lines[series];
    const pts = steps.map(function (s, i) { return xOf(s).toFixed(1) + ',' + yOf(values[i]).toFixed(1); }).join(' ');
    const line = make('polyline', {points: pts, fill: 'none', stroke: lineColors[series], 'stroke-width': p.lineWidth, 'stroke-linejoin': 'round'}, lineLayer);
    
    
  });

  p.marker.forEach(function (series) {
    const values = p.lines[series];
    const dot = make('circle', {cx: xOf(30000), cy: yOf(values[values.length - 1]), r: 13, fill: markerColors[series]}, g);
    
    
  });

  p.ticks.forEach(function (v, i) {
    const label = make('text', {class: 'tick', x: p.labelRight, y: yOf(v) + 13, 'text-anchor': 'end'}, g);
    label.textContent = p.labels[i];
    
    
  });
  xTickSteps.forEach(function (s, i) {
    const label = make('text', {class: 'tick', x: xOf(s) + (i === 0 ? 0 : 3), y: p.xLabelY, 'text-anchor': 'middle'}, g);
    label.textContent = xTickLabels[i];
    
    
  });
}

panels.forEach(drawPanel);
</script>
</body>
</html>
